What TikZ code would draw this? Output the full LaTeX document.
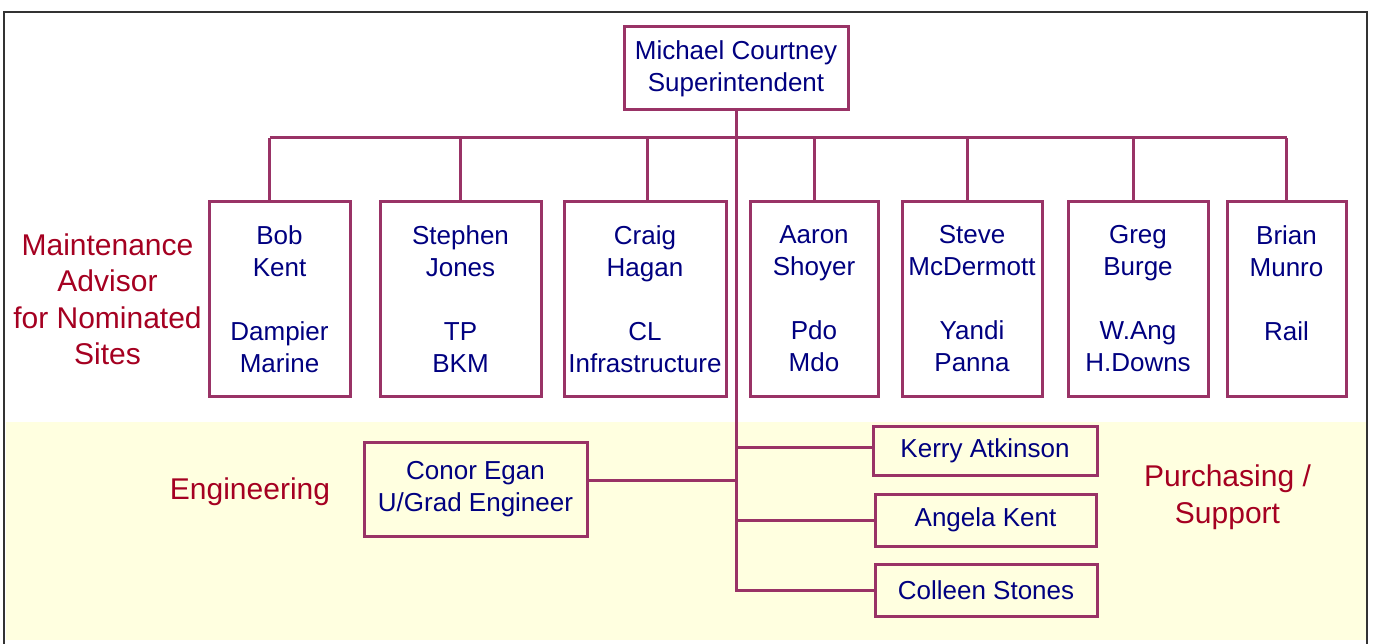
\documentclass[tikz,border=0pt]{standalone}
\usepackage{fontspec}
\setmainfont{Liberation Sans}
\usetikzlibrary{positioning}
\definecolor{boxline}{HTML}{993366}
\definecolor{namecol}{HTML}{000080}
\definecolor{groupcol}{HTML}{A50021}
\definecolor{bandcol}{HTML}{FFFFE0}

\begin{document}
\begin{tikzpicture}[x=1pt,y=-1pt]
        % Define styles
        \tikzset{
            person/.style={draw=boxline, line width=3pt, text=namecol, align=center, inner sep=0pt, font=\fontsize{26}{32}\selectfont},
            link/.style={draw=boxline, line width=3pt},
            group/.style={text=groupcol, align=center, font=\fontsize{30}{36.5}\selectfont}
        }
        % Page, yellow band and frame
        \useasboundingbox (0,0) rectangle (1373,644);
        \fill[white] (0,0) rectangle (1373,644);
        \fill[bandcol] (6,422) rectangle (1366,640);
        \draw[black!80, line width=2pt] (4,644) -- (4,12) -- (1367,12) -- (1367,644);
        % Superintendent
        \node[person, minimum width=224pt, minimum height=83pt] (boss) at (736,68.5) {Michael Courtney\\Superintendent};
        % Maintenance advisors, one box per site
        \node[person, minimum width=141pt, minimum height=194pt] (bob) at (279.5,299) {Bob\\Kent\\[32pt]Dampier\\Marine};
        \node[person, minimum width=161pt, minimum height=194pt] (stephen) at (460.5,299) {Stephen\\Jones\\[32pt]TP\\BKM};
        \node[person, minimum width=162pt, minimum height=194pt] (craig) at (645,299) {Craig\\Hagan\\[32pt]CL\\Infrastructure};
        \node[person, minimum width=128pt, minimum height=194pt] (aaron) at (814,299) {Aaron\\Shoyer\\[32pt]Pdo\\Mdo};
        \node[person, minimum width=140pt, minimum height=194pt] (steve) at (972,299) {Steve\\McDermott\\[32pt]Yandi\\Panna};
        \node[person, minimum width=140pt, minimum height=194pt] (greg) at (1138,299) {Greg\\Burge\\[32pt]W.Ang\\H.Downs};
        \node[person, minimum width=119pt, minimum height=194pt] (brian) at (1286.5,299) {Brian\\Munro\\[32pt]Rail\\\mbox{}};
        % Engineering and support staff
        \node[person, minimum width=223pt, minimum height=94pt] (conor) at (475.5,489) {Conor Egan\\U/Grad Engineer};
        \node[person, minimum width=224pt, minimum height=49pt] (kerry) at (985,450.5) {Kerry Atkinson};
        \node[person, minimum width=221pt, minimum height=52pt] (angela) at (985.5,520) {Angela Kent};
        \node[person, minimum width=222pt, minimum height=52pt] (colleen) at (986,590) {Colleen Stones};
        % Group labels
        \node[group] (maint) at (107.5,299.5) {Maintenance\\Advisor\\for Nominated\\Sites};
        \node[group] (eng) at (250,492) {Engineering};
        \node[group] (purch) at (1227.5,497) {Purchasing /\\Support};
        % Tree lines
        \coordinate (bar) at (736,138);
        \draw[link] (boss.south) -- (boss.south |- colleen.west) -- (colleen.west);
        \foreach \n/\dx in {bob/-10, stephen/0, craig/2, aaron/0, steve/-5, greg/-5, brian/0} {
            \coordinate (top-\n) at ([xshift=\dx pt]\n.north);
            \draw[link] (top-\n) -- (top-\n |- bar);
        }
        \draw[link] (top-bob |- bar) -- (top-brian |- bar);
        \coordinate (kerry-link) at ([yshift=3pt]kerry.west);
        \draw[link] (boss.south |- kerry-link) -- (kerry-link);
        \draw[link] (boss.south |- angela.west) -- (angela.west);
        \coordinate (conor-link) at ([yshift=9pt]conor.east);
        \draw[link] (conor-link) -- (boss.south |- conor-link);
\end{tikzpicture}
\end{document}
